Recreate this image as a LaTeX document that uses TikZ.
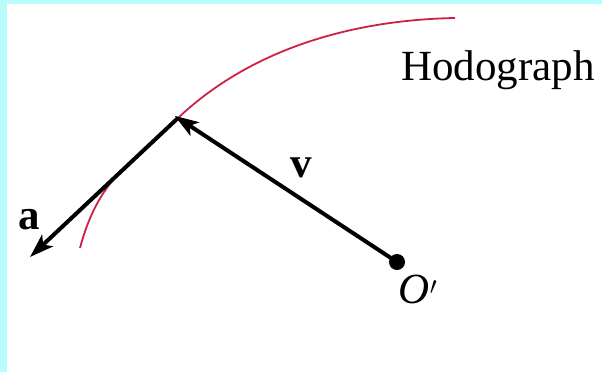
\documentclass[tikz,border=0pt]{standalone}
\usepackage{fontspec}
\setmainfont{Liberation Serif}
\usetikzlibrary{arrows.meta}
\definecolor{bgcyan}{HTML}{B8FCFC}
\definecolor{hodored}{HTML}{D01F45}
\tikzset{
  vec/.style={line width=4pt, -{Stealth[length=24pt,width=16pt,inset=6pt]}},
  lbl/.style={inner sep=0pt, font=\fontsize{43}{50}\selectfont},
  hodo/.style={hodored, line width=1.8pt}
}
\begin{document}
\begin{tikzpicture}[x=1pt,y=-1pt]
\fill[bgcyan] (0,0) rectangle (602,372);
\fill[white] (7,4) rectangle (602,372);
\useasboundingbox (0,0) rectangle (602,372);
% hodograph curve
\draw[hodo] (80,248) .. controls (88,218) and (100,193) .. (120,172) -- (178,118)
  .. controls (250,50) and (350,20) .. (455,18);
% points
\coordinate (tip) at (178,118);
\coordinate (atip) at (30,257);
\node[circle, fill=black, inner sep=0pt, minimum size=16pt] (O) at (397,262) {};
% vectors
\draw[vec] (tip) -- (atip);
\draw[vec, shorten >=-4pt] (O.center) -- (tip);
% labels
\node[lbl, anchor=west] (hodolabel) at (401,70) {Hodograph};
\node[lbl] (alabel) at (29,220) {\textbf{a}};
\node[lbl] (vlabel) at (301,168) {\textbf{v}};
\node[lbl] (Olabel) at (418,289) {\textit{O}$'$};
\end{tikzpicture}
\end{document}
